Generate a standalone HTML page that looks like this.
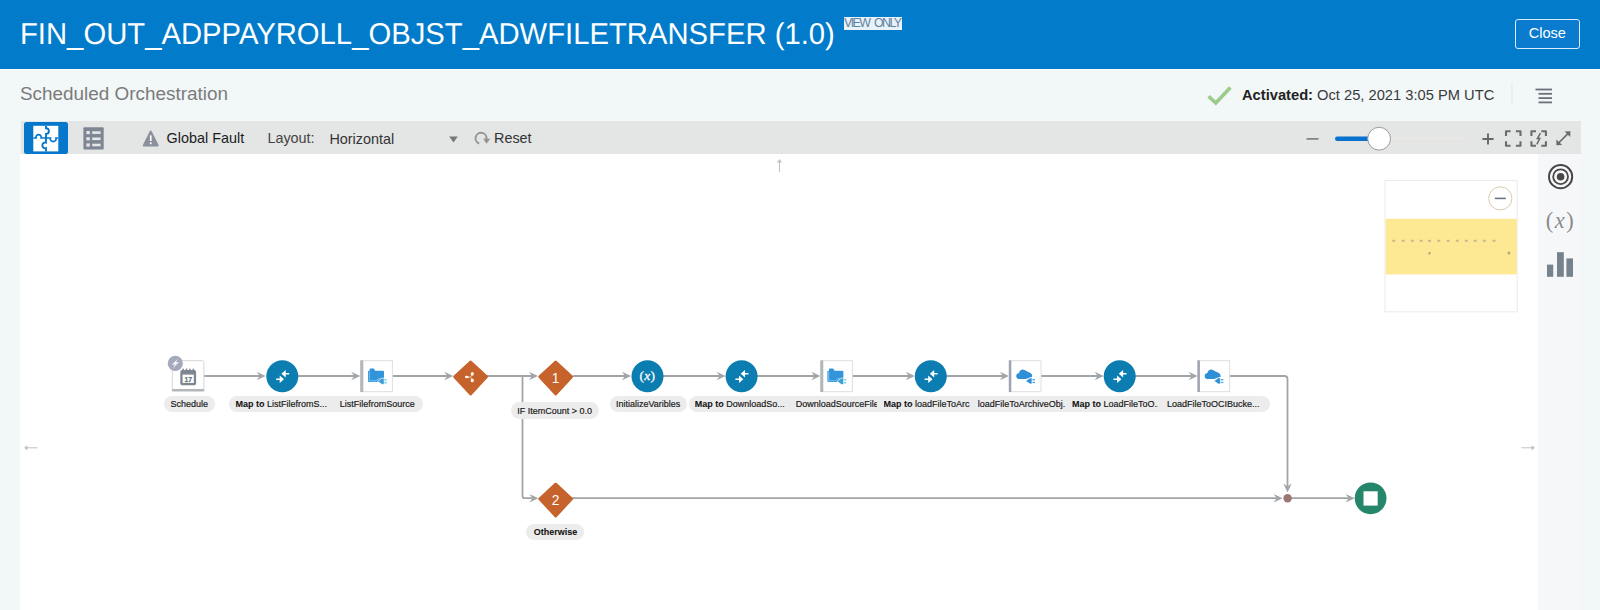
<!DOCTYPE html>
<html>
<head>
<meta charset="utf-8">
<title>FIN_OUT_ADPPAYROLL_OBJST_ADWFILETRANSFER</title>
<style>
html,body{margin:0;padding:0;}
body{width:1600px;height:610px;overflow:hidden;background:#f2f7f8;font-family:"Liberation Sans",Arial,sans-serif;position:relative;color:#333;}
.abs{position:absolute;}
#hdr{left:0;top:0;width:1600px;height:68.5px;background:#017bca;}
#hdrline{left:0;top:68.5px;width:1600px;height:1.5px;background:#fbfdfe;}
#title{left:20px;top:17.4px;font-size:29.25px;line-height:36px;color:#fff;white-space:nowrap;text-rendering:geometricPrecision;transform:scaleY(1.03);transform-origin:0 28.6px;}
#viewonly{left:844px;top:16.5px;height:13px;width:57.5px;font-size:12.4px;line-height:12.4px;color:#5e83a3;background:#e9f2f9;white-space:nowrap;letter-spacing:-1.55px;word-spacing:2.6px;overflow:hidden;}
#close{left:1515px;top:19.2px;width:62.6px;height:28.2px;border:1.4px solid #d8eefc;border-radius:3px;color:#fff;font-size:14.6px;line-height:27px;text-align:center;background:#0a7bcf;}
#sub{left:20px;top:82px;font-size:18.9px;line-height:24px;color:#7b7b7b;white-space:nowrap;}
#act{left:1242px;top:85.5px;font-size:14.7px;line-height:18px;color:#3a3a3a;white-space:nowrap;}
#act b{font-weight:bold;color:#222;}
#tb{left:20.5px;top:120.7px;width:1560px;height:33.7px;background:#e4e5e5;}
#btn1{left:24.3px;top:121.5px;width:44px;height:32.8px;background:#0678cc;border-radius:2.5px;z-index:2;}
#canvas{left:20px;top:154.4px;width:1518px;height:456px;background:#fff;}
#side{left:1538px;top:154.4px;width:42.5px;height:456px;background:#f6f7f9;}
.tbt{font-size:14.4px;line-height:18px;color:#2a2a2a;white-space:nowrap;}
.pill{position:absolute;z-index:4;background:#ececec;}
.lt{position:absolute;z-index:5;height:15.6px;line-height:15.6px;font-size:9px;color:#1a1a1a;white-space:nowrap;-webkit-text-stroke:0.18px #1a1a1a;}
.lt b{font-weight:bold;color:#141414;-webkit-text-stroke:0.08px #141414;}
</style>
</head>
<body>
<div id="hdr" class="abs"></div>
<div id="hdrline" class="abs"></div>
<div id="title" class="abs">FIN_OUT_ADPPAYROLL_OBJST_ADWFILETRANSFER (1.0)</div>
<div id="viewonly" class="abs">VIEW ONLY</div>
<div id="close" class="abs">Close</div>
<div id="sub" class="abs">Scheduled Orchestration</div>
<div id="act" class="abs"><b>Activated:</b> Oct 25, 2021 3:05 PM UTC</div>
<div id="tb" class="abs"></div>
<div id="btn1" class="abs"></div>
<div id="canvas" class="abs"></div>
<div id="side" class="abs"></div>
<div class="abs tbt" style="left:166.6px;top:129.2px;color:#1c1c1c;">Global Fault</div>
<div class="abs tbt" style="left:267.4px;top:129.2px;color:#444;">Layout:</div>
<div class="abs tbt" style="left:329.4px;top:130.2px;color:#333;">Horizontal</div>
<div class="abs tbt" style="left:494px;top:129.4px;color:#333;">Reset</div>
<svg class="abs" id="gfx" style="left:0;top:0;z-index:3;" width="1600" height="610" viewBox="0 0 1600 610">
<path d="M1208.6 96.2 L1215.8 103 L1230.4 87.4" fill="none" stroke="#9ccb8a" stroke-width="3.6" stroke-linejoin="miter"/>
<rect x="1535.5" y="88.6" width="16.5" height="1.8" fill="#6a727b"/>
<rect x="1538.5" y="92.89999999999999" width="13.5" height="1.8" fill="#6a727b"/>
<rect x="1538.5" y="97.19999999999999" width="13.5" height="1.8" fill="#6a727b"/>
<rect x="1538.5" y="101.5" width="13.5" height="1.8" fill="#6a727b"/>
<rect x="1511.4" y="83" width="1" height="21" fill="#e2e7ea"/>
<rect x="33.3" y="125.8" width="25" height="25.6" fill="#fff"/>
<path d="M46 125.8 L46 128.2 A2.9 2.9 0 1 1 46 134 L46 138 M46 138 L46 142.6 A2.9 2.9 0 1 0 46 148.2 L46 151.4" fill="none" stroke="#0678cc" stroke-width="1.9"/>
<path d="M33.3 138 L36 138 A2.7 2.7 0 1 1 41.2 138 L46 138 L50.4 138 A2.9 2.9 0 1 0 56 138 L58.3 138" fill="none" stroke="#0678cc" stroke-width="1.7"/>
<rect x="83.4" y="127.2" width="20.3" height="22.4" rx="1" fill="#7d8692"/>
<rect x="86.4" y="131" width="3.4" height="3.2" fill="#e6e7e8"/><rect x="92.2" y="131.3" width="8.4" height="2.6" fill="#e6e7e8"/>
<rect x="86.4" y="137.2" width="3.4" height="3.2" fill="#e6e7e8"/><rect x="92.2" y="137.5" width="8.4" height="2.6" fill="#e6e7e8"/>
<rect x="86.4" y="143.4" width="3.4" height="3.2" fill="#e6e7e8"/><rect x="92.2" y="143.70000000000002" width="8.4" height="2.6" fill="#e6e7e8"/>
<path d="M150.7 130.6 Q151.4 130.6 151.8 131.4 L158.6 145 Q159 146.4 157.6 146.4 L143.8 146.4 Q142.4 146.4 142.9 145 L149.6 131.4 Q150 130.6 150.7 130.6 Z" fill="#8a919b"/>
<rect x="149.9" y="135.4" width="1.7" height="5.6" fill="#fff"/><rect x="149.9" y="142.4" width="1.7" height="1.8" fill="#fff"/>
<path d="M449.2 136.6 L457.8 136.6 L453.5 142.6 Z" fill="#777"/>
<path d="M479.2 143.5 A5.5 5.5 0 1 1 486.5 138.8" fill="none" stroke="#939393" stroke-width="1.9"/>
<path d="M483.2 138.4 L490.4 138.8 L486.4 143.8 Z" fill="#939393"/>
<rect x="1306.5" y="138.1" width="12" height="1.6" fill="#7a7a7a"/>
<rect x="1390" y="136.9" width="76" height="3.6" rx="1.8" fill="#e8e7e4"/>
<rect x="1335" y="136.6" width="36" height="4.4" rx="2.2" fill="#0572ce"/>
<circle cx="1379.1" cy="138.7" r="11.4" fill="#fff" stroke="#9a9a9a" stroke-width="1"/>
<path d="M1482.4 139 L1493.6 139 M1488 133.4 L1488 144.6" stroke="#666" stroke-width="1.9" fill="none"/>
<path d="M1506 135.9 L1506 131.3 L1510.6 131.3 M1515.9 131.3 L1520.5 131.3 L1520.5 135.9 M1520.5 141.20000000000002 L1520.5 145.8 L1515.9 145.8 M1510.6 145.8 L1506 145.8 L1506 141.20000000000002" fill="none" stroke="#6c6c6c" stroke-width="2.1" stroke-linejoin="round"/>
<path d="M1531.4 135.9 L1531.4 131.3 L1536.0 131.3 M1541.3000000000002 131.3 L1545.9 131.3 L1545.9 135.9 M1545.9 141.20000000000002 L1545.9 145.8 L1541.3000000000002 145.8 M1536.0 145.8 L1531.4 145.8 L1531.4 141.20000000000002" fill="none" stroke="#6c6c6c" stroke-width="2.1" stroke-linejoin="round"/>
<path d="M1540.4 133.2 L1537.4 138.6 L1539.8 138.6 L1536.8 144.4" fill="none" stroke="#6a6a6a" stroke-width="1.5"/>
<path d="M1558.6 143 L1568.4 133.2" stroke="#6a6a6a" stroke-width="1.7" fill="none"/>
<path d="M1564.6 131.4 L1570.4 131.2 L1570.2 137 Z" fill="#6a6a6a"/><path d="M1556.4 139.4 L1556.4 145.2 L1562.2 145 Z" fill="#6a6a6a"/>
<circle cx="1560.6" cy="176.7" r="11.6" fill="none" stroke="#474747" stroke-width="2"/><circle cx="1560.6" cy="176.7" r="7.4" fill="none" stroke="#474747" stroke-width="1.8"/><circle cx="1560.6" cy="176.7" r="3.8" fill="#474747"/>
<text x="1560.4" y="227.6" font-family="Liberation Serif, serif" font-size="22.4" fill="#8a8a8a" text-anchor="middle" letter-spacing="1.5">(<tspan font-style="italic">x</tspan>)</text>
<rect x="1547" y="264.6" width="6.2" height="12.2" fill="#76828c"/><rect x="1557" y="252.2" width="6.8" height="24.6" fill="#76828c"/><rect x="1566.4" y="258.4" width="6.6" height="18.4" fill="#76828c"/>
<rect x="1385" y="180.6" width="132.2" height="131.2" fill="#fff" stroke="#ebebeb" stroke-width="1"/>
<rect x="1385.6" y="218.8" width="131.2" height="55.6" fill="#fde993"/>
<circle cx="1500.3" cy="198.4" r="11.6" fill="#fff" stroke="#d9ccae" stroke-width="1"/><rect x="1494.8" y="197.6" width="11" height="1.6" fill="#6c7682"/>
<rect x="1392.3" y="239.8" width="3" height="2" rx="0.6" fill="#c6b78a"/>
<rect x="1401.7" y="239.8" width="3" height="2" rx="0.6" fill="#c6b78a"/>
<rect x="1410.8" y="239.8" width="3" height="2" rx="0.6" fill="#c6b78a"/>
<rect x="1419.6" y="239.8" width="3" height="2" rx="0.6" fill="#c6b78a"/>
<rect x="1428.0" y="239.8" width="3" height="2" rx="0.6" fill="#c6b78a"/>
<rect x="1437.3" y="239.8" width="3" height="2" rx="0.6" fill="#c6b78a"/>
<rect x="1446.7" y="239.8" width="3" height="2" rx="0.6" fill="#c6b78a"/>
<rect x="1455.7" y="239.8" width="3" height="2" rx="0.6" fill="#c6b78a"/>
<rect x="1464.8" y="239.8" width="3" height="2" rx="0.6" fill="#c6b78a"/>
<rect x="1473.7" y="239.8" width="3" height="2" rx="0.6" fill="#c6b78a"/>
<rect x="1482.8" y="239.8" width="3" height="2" rx="0.6" fill="#c6b78a"/>
<rect x="1492.6" y="239.8" width="3" height="2" rx="0.6" fill="#c6b78a"/>
<rect x="1428.4" y="252" width="2.2" height="2.4" rx="0.6" fill="#b3a583"/><rect x="1507.6" y="251.8" width="2.6" height="2.6" rx="0.8" fill="#b3a583"/>
<path d="M779.5 160 L779.5 172" stroke="#c2c2c2" stroke-width="1"/><path d="M776.8 162.4 L779.5 159 L782.2 162.4 Z" fill="#c2c2c2"/>
<path d="M25 447.8 L37.6 447.8" stroke="#c2c2c2" stroke-width="1"/><path d="M27.4 445.2 L24 447.8 L27.4 450.4 Z" fill="#c2c2c2"/>
<path d="M1521.4 447.8 L1534 447.8" stroke="#c2c2c2" stroke-width="1"/><path d="M1531.6 445.2 L1535 447.8 L1531.6 450.4 Z" fill="#c2c2c2"/>
<line x1="204" y1="376.0" x2="261" y2="376.0" stroke="#a1a5a8" stroke-width="1.8"/>
<line x1="298" y1="376.0" x2="355" y2="376.0" stroke="#a1a5a8" stroke-width="1.8"/>
<line x1="392" y1="376.0" x2="448" y2="376.0" stroke="#a1a5a8" stroke-width="1.8"/>
<line x1="487" y1="376.0" x2="533" y2="376.0" stroke="#a1a5a8" stroke-width="1.8"/>
<line x1="573" y1="376.0" x2="626" y2="376.0" stroke="#a1a5a8" stroke-width="1.8"/>
<line x1="663" y1="376.0" x2="721" y2="376.0" stroke="#a1a5a8" stroke-width="1.8"/>
<line x1="757" y1="376.0" x2="815" y2="376.0" stroke="#a1a5a8" stroke-width="1.8"/>
<line x1="852" y1="376.0" x2="910" y2="376.0" stroke="#a1a5a8" stroke-width="1.8"/>
<line x1="946" y1="376.0" x2="1004" y2="376.0" stroke="#a1a5a8" stroke-width="1.8"/>
<line x1="1041" y1="376.0" x2="1099" y2="376.0" stroke="#a1a5a8" stroke-width="1.8"/>
<line x1="1135" y1="376.0" x2="1193" y2="376.0" stroke="#a1a5a8" stroke-width="1.8"/>
<path d="M1230 376.0 L1284.5 376.0 Q1287.5 376.0 1287.5 379.0 L1287.5 487" fill="none" stroke="#a1a5a8" stroke-width="1.8"/>
<path d="M522.5 376.0 L522.5 496 Q522.5 498.2 524.7 498.2 L533 498.2" fill="none" stroke="#a1a5a8" stroke-width="1.8"/>
<line x1="572" y1="498.2" x2="1277" y2="498.2" stroke="#a1a5a8" stroke-width="1.8"/>
<line x1="1291" y1="498.2" x2="1350" y2="498.2" stroke="#a1a5a8" stroke-width="1.8"/>
<path d="M265.6 376.0 L256.6 371.8 L259.70000000000005 376.0 L256.6 380.2 Z" fill="#a1a5a8"/>
<path d="M360.2 376.0 L351.2 371.8 L354.3 376.0 L351.2 380.2 Z" fill="#a1a5a8"/>
<path d="M453.2 376.0 L444.2 371.8 L447.3 376.0 L444.2 380.2 Z" fill="#a1a5a8"/>
<path d="M538 376.0 L529 371.8 L532.1 376.0 L529 380.2 Z" fill="#a1a5a8"/>
<path d="M631 376.0 L622 371.8 L625.1 376.0 L622 380.2 Z" fill="#a1a5a8"/>
<path d="M725.6 376.0 L716.6 371.8 L719.7 376.0 L716.6 380.2 Z" fill="#a1a5a8"/>
<path d="M820.4 376.0 L811.4 371.8 L814.5 376.0 L811.4 380.2 Z" fill="#a1a5a8"/>
<path d="M914.8 376.0 L905.8 371.8 L908.9 376.0 L905.8 380.2 Z" fill="#a1a5a8"/>
<path d="M1009 376.0 L1000 371.8 L1003.1 376.0 L1000 380.2 Z" fill="#a1a5a8"/>
<path d="M1103.6 376.0 L1094.6 371.8 L1097.6999999999998 376.0 L1094.6 380.2 Z" fill="#a1a5a8"/>
<path d="M1197.6 376.0 L1188.6 371.8 L1191.6999999999998 376.0 L1188.6 380.2 Z" fill="#a1a5a8"/>
<path d="M538.4 498.2 L529.4 494.0 L532.5 498.2 L529.4 502.4 Z" fill="#a1a5a8"/>
<path d="M1282.6 498.2 L1273.6 494.0 L1276.6999999999998 498.2 L1273.6 502.4 Z" fill="#a1a5a8"/>
<path d="M1354.6 498.2 L1345.6 494.0 L1348.6999999999998 498.2 L1345.6 502.4 Z" fill="#a1a5a8"/>
<path d="M1287.5 492.4 L1283.3 483.4 L1287.5 486.5 L1291.7 483.4 Z" fill="#a1a5a8"/>
<circle cx="1287.6" cy="498.3" r="4.2" fill="#9b7773"/>
<rect x="172.3" y="360.7" width="31.6" height="29.6" rx="1.5" fill="#fff" stroke="#d6d6d6" stroke-width="1"/>
<rect x="171.8" y="389" width="32.6" height="2.4" rx="0.8" fill="#b4b7ba"/>
<rect x="180.3" y="370" width="15.8" height="15.2" rx="2" fill="#7e8691"/>
<rect x="182.6" y="374.6" width="11.2" height="8.4" fill="#fff"/>
<rect x="182.4" y="368.4" width="1.5" height="3" rx="0.7" fill="#7e8691"/>
<rect x="185.8" y="368.4" width="1.5" height="3" rx="0.7" fill="#7e8691"/>
<rect x="189.2" y="368.4" width="1.5" height="3" rx="0.7" fill="#7e8691"/>
<rect x="192.6" y="368.4" width="1.5" height="3" rx="0.7" fill="#7e8691"/>
<text x="188.2" y="381.6" font-family="Liberation Sans, Arial, sans-serif" font-size="6.8" font-weight="bold" fill="#6d7580" stroke="#6d7580" stroke-width="0.25" text-anchor="middle">17</text>
<circle cx="175.3" cy="363.4" r="7.6" fill="#a4a9bb"/>
<path d="M178.4 358.2 L171.8 364.8 L175 364.6 L172.4 368.8 L179 362 L175.8 362.2 Z" fill="#f4f5f8"/>
<circle cx="282.3" cy="376.3" r="16" fill="#0b7db1"/><path d="M281.40000000000003 373.8 L285.7 370.1 L285.7 373.0 L289.2 373.0 L289.2 374.6 L285.7 374.6 L285.7 377.5 Z" fill="#fff"/><path d="M284.0 379.2 L279.7 375.5 L279.7 378.40000000000003 L276.1 378.40000000000003 L276.1 380.0 L279.7 380.0 L279.7 382.90000000000003 Z" fill="#fff"/>
<rect x="360.6" y="360.7" width="31.8" height="31" fill="#fff" stroke="#dedede" stroke-width="1"/><rect x="360.3" y="360.4" width="3" height="31.6" fill="#b4b7ba"/>
<path d="M368 371.7 Q368 370.8 369 370.8 L369.6 370.8 L369.6 369.3 Q369.6 368.5 370.4 368.5 L373.8 368.5 L375.2 370.8 L383 370.8 Q384 370.8 384 371.8 L384 381.1 Q384 382.1 383 382.1 L369 382.1 Q368 382.1 368 381.1 Z" fill="#3394da"/><path d="M369.3 371.7 L369.3 380.8 L376 380.8 Q378 378.5 380.5 378.1" fill="none" stroke="#86d3f6" stroke-width="0.8"/><path d="M377.6 381.3 L382 378.1 L384.2 378.1 L384.2 384.5 L382 384.5 Z" fill="#3b9ed6" stroke="#fff" stroke-width="0.7"/><rect x="384.4" y="379.2" width="2.4" height="1.3" fill="#62cfe6"/><rect x="384.4" y="382.1" width="2.4" height="1.3" fill="#62cfe6"/>
<path d="M453.6 375.80000000000007 L469.6 361.0 Q470.6 360.1 471.6 361.0 L487.6 375.80000000000007 Q488.6 376.70000000000005 487.6 377.75000000000006 L471.6 394.95 Q470.6 396.0 469.6 394.95 L453.6 377.75000000000006 Q452.6 376.70000000000005 453.6 375.80000000000007 Z" fill="#c6622b"/>
<path d="M470.6 377.2 L466.6 376.9 M470.6 377.2 L472.4 374 M470.6 377.2 L472.4 380.4" stroke="#f3d9c4" stroke-width="0.8" fill="none"/>
<ellipse cx="466.8" cy="377" rx="2" ry="1.35" fill="#fdf3e6"/><ellipse cx="472.3" cy="373.8" rx="1.6" ry="1.9" fill="#fdf3e6"/><ellipse cx="472.3" cy="380.4" rx="1.6" ry="1.9" fill="#fdf3e6"/>
<path d="M538.7 375.80000000000007 L554.7 361.0 Q555.7 360.1 556.7 361.0 L572.7 375.80000000000007 Q573.7 376.70000000000005 572.7 377.75000000000006 L556.7 394.95 Q555.7 396.0 554.7 394.95 L538.7 377.75000000000006 Q537.7 376.70000000000005 538.7 375.80000000000007 Z" fill="#c6622b"/>
<text x="555.7" y="383.1" font-family="Liberation Sans, Arial, sans-serif" font-size="13.8" fill="#fff" text-anchor="middle">1</text>
<path d="M538.7 497.90000000000003 L554.7 483.09999999999997 Q555.7 482.2 556.7 483.09999999999997 L572.7 497.90000000000003 Q573.7 498.8 572.7 499.85 L556.7 517.0500000000001 Q555.7 518.1 554.7 517.0500000000001 L538.7 499.85 Q537.7 498.8 538.7 497.90000000000003 Z" fill="#c6622b"/>
<text x="555.6" y="505.3" font-family="Liberation Sans, Arial, sans-serif" font-size="13.8" fill="#fff" text-anchor="middle">2</text>
<circle cx="647.5" cy="376.3" r="16" fill="#0b7db1"/>
<text x="647.3" y="380.2" font-family="Liberation Serif, serif" font-size="13.4" fill="#fff" stroke="#fff" stroke-width="0.3" text-anchor="middle" letter-spacing="0.3">(<tspan font-style="italic">x</tspan>)</text>
<circle cx="741.6" cy="376.3" r="16" fill="#0b7db1"/><path d="M740.7 373.8 L745.0 370.1 L745.0 373.0 L748.5 373.0 L748.5 374.6 L745.0 374.6 L745.0 377.5 Z" fill="#fff"/><path d="M743.3000000000001 379.2 L739.0 375.5 L739.0 378.40000000000003 L735.4 378.40000000000003 L735.4 380.0 L739.0 380.0 L739.0 382.90000000000003 Z" fill="#fff"/>
<rect x="820.6" y="360.7" width="31.8" height="31" fill="#fff" stroke="#dedede" stroke-width="1"/><rect x="820.3000000000001" y="360.4" width="3" height="31.6" fill="#b4b7ba"/>
<path d="M827.4 371.7 Q827.4 370.8 828.4 370.8 L829.0 370.8 L829.0 369.3 Q829.0 368.5 829.8 368.5 L833.1999999999999 368.5 L834.6 370.8 L842.4 370.8 Q843.4 370.8 843.4 371.8 L843.4 381.1 Q843.4 382.1 842.4 382.1 L828.4 382.1 Q827.4 382.1 827.4 381.1 Z" fill="#3394da"/><path d="M828.6999999999999 371.7 L828.6999999999999 380.8 L835.4 380.8 Q837.4 378.5 839.9 378.1" fill="none" stroke="#86d3f6" stroke-width="0.8"/><path d="M837.0 381.3 L841.4 378.1 L843.6 378.1 L843.6 384.5 L841.4 384.5 Z" fill="#3b9ed6" stroke="#fff" stroke-width="0.7"/><rect x="843.8" y="379.2" width="2.4" height="1.3" fill="#62cfe6"/><rect x="843.8" y="382.1" width="2.4" height="1.3" fill="#62cfe6"/>
<circle cx="930.8" cy="376.3" r="16" fill="#0b7db1"/><path d="M929.9 373.8 L934.1999999999999 370.1 L934.1999999999999 373.0 L937.6999999999999 373.0 L937.6999999999999 374.6 L934.1999999999999 374.6 L934.1999999999999 377.5 Z" fill="#fff"/><path d="M932.5 379.2 L928.1999999999999 375.5 L928.1999999999999 378.40000000000003 L924.5999999999999 378.40000000000003 L924.5999999999999 380.0 L928.1999999999999 380.0 L928.1999999999999 382.90000000000003 Z" fill="#fff"/>
<rect x="1009.2" y="360.7" width="31.8" height="31" fill="#fff" stroke="#dedede" stroke-width="1"/><rect x="1008.9000000000001" y="360.4" width="2.4" height="31.6" fill="#9ea2b2"/>
<path d="M1018.4000000000001 379.0 Q1016.0 378.4 1016.2 375.7 Q1016.5 373.4 1019.0 373.0 Q1019.8000000000001 369.4 1022.8000000000001 369.4 Q1024.8 369.5 1026.2 371.0 L1030.5 373.0 Q1032.6000000000001 374.2 1032.2 376.79999999999995 L1028.7 378.0 L1025.8 379.0 Z" fill="#2f90d8"/><path d="M1025.6000000000001 381.0 L1030.0 377.79999999999995 L1032.0 377.79999999999995 L1032.0 384.0 L1030.0 384.0 Z" fill="#2f90d8" stroke="#fff" stroke-width="0.7"/><rect x="1032.4" y="379.0" width="2.6" height="1.3" fill="#4aa8e0"/><rect x="1032.4" y="381.79999999999995" width="2.6" height="1.3" fill="#4aa8e0"/>
<circle cx="1119.7" cy="376.3" r="16" fill="#0b7db1"/><path d="M1118.8 373.8 L1123.1000000000001 370.1 L1123.1000000000001 373.0 L1126.6000000000001 373.0 L1126.6000000000001 374.6 L1123.1000000000001 374.6 L1123.1000000000001 377.5 Z" fill="#fff"/><path d="M1121.4 379.2 L1117.1000000000001 375.5 L1117.1000000000001 378.40000000000003 L1113.5 378.40000000000003 L1113.5 380.0 L1117.1000000000001 380.0 L1117.1000000000001 382.90000000000003 Z" fill="#fff"/>
<rect x="1197.8" y="360.7" width="31.8" height="31" fill="#fff" stroke="#dedede" stroke-width="1"/><rect x="1197.5" y="360.4" width="2.4" height="31.6" fill="#9ea2b2"/>
<path d="M1206.8 379.0 Q1204.3999999999999 378.4 1204.6 375.7 Q1204.8999999999999 373.4 1207.3999999999999 373.0 Q1208.1999999999998 369.4 1211.1999999999998 369.4 Q1213.1999999999998 369.5 1214.6 371.0 L1218.8999999999999 373.0 Q1221.0 374.2 1220.6 376.79999999999995 L1217.1 378.0 L1214.1999999999998 379.0 Z" fill="#2f90d8"/><path d="M1214.0 381.0 L1218.3999999999999 377.79999999999995 L1220.3999999999999 377.79999999999995 L1220.3999999999999 384.0 L1218.3999999999999 384.0 Z" fill="#2f90d8" stroke="#fff" stroke-width="0.7"/><rect x="1220.8" y="379.0" width="2.6" height="1.3" fill="#4aa8e0"/><rect x="1220.8" y="381.79999999999995" width="2.6" height="1.3" fill="#4aa8e0"/>
<circle cx="1370.6" cy="498.3" r="15.9" fill="#26866b"/>
<rect x="1363.5" y="491.3" width="14.2" height="14.3" fill="#fff"/>
</svg>
<div class="pill" style="left:164.2px;top:395.9px;width:50.4px;height:16.3px;border-radius:8.15px;"></div>
<div class="pill" style="left:228.8px;top:395.9px;width:193.8px;height:16.3px;border-radius:8.15px;"></div>
<div class="pill" style="left:511.0px;top:401.8px;width:88.4px;height:16.9px;border-radius:8.45px;"></div>
<div class="pill" style="left:526.3px;top:524.2px;width:57.6px;height:15.9px;border-radius:7.95px;"></div>
<div class="pill" style="left:609.8px;top:395.9px;width:76.8px;height:16.3px;border-radius:8.15px;"></div>
<div class="pill" style="left:689.2px;top:395.9px;width:580.6px;height:16.5px;border-radius:8.25px;"></div>
<div class="lt" style="left:170.4px;top:396.6px;">Schedule</div>
<div class="lt" style="left:235.5px;top:396.6px;"><b>Map to</b> ListFilefromS...</div>
<div class="lt" style="left:339.8px;top:396.6px;">ListFilefromSource</div>
<div class="lt" style="left:517.2px;top:403.6px;">IF ItemCount &gt; 0.0</div>
<div class="lt" style="left:533.7px;top:525.0px;"><b>Otherwise</b></div>
<div class="lt" style="left:616px;top:396.6px;">InitializeVaribles</div>
<div class="lt" style="left:694.7px;top:396.6px;"><b>Map to</b> DownloadSo...</div>
<div class="lt" style="left:795.7px;top:396.6px;width:81.4px;overflow:hidden;">DownloadSourceFile</div>
<div class="lt" style="left:883.6px;top:396.6px;width:86.4px;overflow:hidden;"><b>Map to</b> loadFileToArc...</div>
<div class="lt" style="left:977.7px;top:396.6px;width:87.6px;overflow:hidden;">loadFileToArchiveObj...</div>
<div class="lt" style="left:1072.1px;top:396.6px;width:86.2px;overflow:hidden;"><b>Map to</b> LoadFileToO...</div>
<div class="lt" style="left:1166.9px;top:396.6px;">LoadFileToOCIBucke...</div>
</body>
</html>
